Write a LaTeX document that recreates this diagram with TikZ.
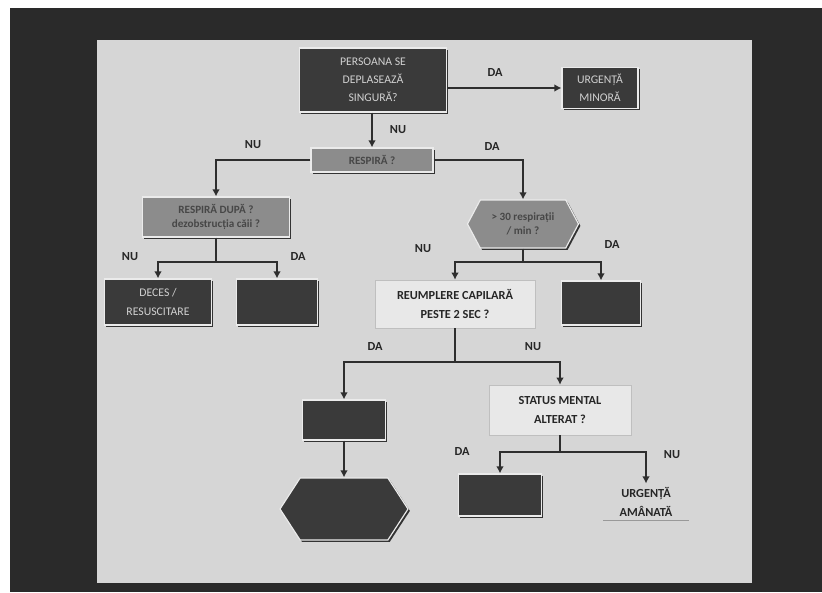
\documentclass[tikz,border=0pt]{standalone}
\usepackage{fontspec}
\setmainfont{Carlito}
\usetikzlibrary{arrows.meta,shapes.misc,shapes.symbols,shadows}
\definecolor{rama}{HTML}{2A2A2A}
\definecolor{diapo}{HTML}{D6D6D6}
\definecolor{inchis}{HTML}{3A3A3A}
\definecolor{gri}{HTML}{8C8C8C}
\definecolor{deschis}{HTML}{E8E8E8}
\definecolor{linie}{HTML}{2E2E2E}
\tikzset{
CutieInchisa/.style={
 rectangle,
 fill=inchis,
 draw=white!92!black,
 line width=1pt,
 inner sep=0pt,
 text=white!82!black,
 align=center,
 font=\fontsize{10}{15.5}\selectfont,
 drop shadow={shadow xshift=1.6pt,shadow yshift=-1.6pt,fill=black!80,opacity=1}
 },
CutieGri/.style={
 rectangle,
 fill=gri,
 draw=white!92!black,
 line width=1pt,
 inner sep=0pt,
 text=black!72,
 align=center,
 font=\bfseries\fontsize{9.5}{12.5}\selectfont,
 drop shadow={shadow xshift=1.6pt,shadow yshift=-1.6pt,fill=black!80,opacity=1}
 },
CutieDeschisa/.style={
 rectangle,
 fill=deschis,
 draw=black!25,
 line width=0.5pt,
 inner sep=0pt,
 text=black!85,
 align=center,
 font=\bfseries\fontsize{10.5}{16.5}\selectfont,
 drop shadow={shadow xshift=1.2pt,shadow yshift=-1.2pt,fill=black!45,opacity=1}
 },
Hexagon/.style={
 signal,
 signal to=west and east,
 signal pointer angle=#1,
 inner sep=0pt
 },
Hexagon/.default={120},
Linie/.style={
 draw=linie,
 line width=1.6pt
 },
Sageata/.style={
 Linie,
 -{Latex[length=6pt,width=6.5pt]}
 },
Eticheta/.style={
 text=black!85,
 font=\bfseries\fontsize{10.5}{11}\selectfont
 }
}
\begin{document}
\begin{tikzpicture}[x=0.03cm,y=-0.03cm]
\useasboundingbox (0,0) rectangle (822,592);
% fundal: rama neagra si diapozitivul
\fill[white] (0,0) rectangle (822,592);
\fill[rama] (10,8) rectangle (822,592);
\fill[diapo] (97,40) rectangle (752,583);

% cutii
\node[CutieInchisa,minimum width=4.41cm,minimum height=1.92cm] (persoana) at (373,80) {PERSOANA SE\\DEPLASEAZĂ\\SINGURĂ?};
\node[CutieInchisa,minimum width=2.28cm,minimum height=1.23cm] (urgMinora) at (600,88) {URGENȚĂ\\MINORĂ};
\node[CutieGri,minimum width=3.66cm,minimum height=0.72cm] (respira) at (372,160) {RESPIRĂ ?};
\node[CutieGri,minimum width=4.41cm,minimum height=1.2cm] (dezob) at (216,217) {RESPIRĂ DUPĂ ?\\dezobstrucția căii ?};
\node[CutieGri,Hexagon=124,minimum width=3.33cm,minimum height=1.44cm] (hexResp) at (523,224) {> 30 respirații\\/ min ?};
\node[CutieInchisa,minimum width=3.21cm,minimum height=1.38cm] (deces) at (158,302) {DECES /\\RESUSCITARE};
\node[CutieInchisa,minimum width=2.43cm,minimum height=1.38cm] (gol1) at (277,302) {};
\node[CutieDeschisa,minimum width=4.8cm,minimum height=1.44cm] (reumplere) at (455,304) {REUMPLERE CAPILARĂ\\PESTE 2 SEC ?};
\node[CutieInchisa,minimum width=2.37cm,minimum height=1.32cm] (gol2) at (601,303) {};
\node[CutieInchisa,minimum width=2.49cm,minimum height=1.2cm] (gol3) at (344,420) {};
\node[CutieDeschisa,minimum width=4.26cm,minimum height=1.5cm] (status) at (560,410) {STATUS MENTAL\\ALTERAT ?};
\node[CutieInchisa,Hexagon=114,minimum width=3.84cm,minimum height=1.86cm] (hexFinal) at (344,509) {};
\node[CutieInchisa,minimum width=2.49cm,minimum height=1.26cm] (gol4) at (500,495) {};
\node[text=black!85,align=center,font=\bfseries\fontsize{10.5}{16}\selectfont,minimum width=2.55cm] (amanata) at (646,502) {URGENȚĂ\\AMÂNATĂ};
\draw[black!40,line width=0.6pt] (amanata.south west) -- (amanata.south east);

% ramificatii
\coordinate (rDezob) at (216,262);
\coordinate (rHex) at (523,262);
\coordinate (rReumpl) at (455,362);
\coordinate (rStatus) at (560,452);

% sageti
\draw[Sageata] (persoana.east |- urgMinora.west) -- (urgMinora.west);
\draw[Sageata] (persoana.south -| respira.north) -- (respira.north);
\draw[Sageata] (respira.west) -| (dezob.north);
\draw[Sageata] (respira.east) -| (hexResp.north);
\draw[Linie] (dezob.south) -- (rDezob);
\draw[Sageata] (rDezob) -| (deces.north);
\draw[Sageata] (rDezob) -| (gol1.north);
\draw[Linie] (hexResp.south) -- (rHex);
\draw[Sageata] (rHex) -| (reumplere.north);
\draw[Sageata] (rHex) -| (gol2.north);
\draw[Linie] (reumplere.south) -- (rReumpl);
\draw[Sageata] (rReumpl) -| (gol3.north);
\draw[Sageata] (rReumpl) -| (status.north);
\draw[Sageata] (gol3.south) -- (hexFinal.north);
\draw[Linie] (status.south) -- (rStatus);
\draw[Sageata] (rStatus) -| (gol4.north);
\draw[Sageata] (rStatus) -| (amanata.north);

% etichete
\node[Eticheta] (da1) at (495,73) {DA};
\node[Eticheta] (nu1) at (398,130) {NU};
\node[Eticheta] (nu2) at (253,145) {NU};
\node[Eticheta] (da2) at (492,147) {DA};
\node[Eticheta] (nu3) at (130,257) {NU};
\node[Eticheta] (da3) at (298,257) {DA};
\node[Eticheta] (nu4) at (423,249) {NU};
\node[Eticheta] (da4) at (612,245) {DA};
\node[Eticheta] (da5) at (375,347) {DA};
\node[Eticheta] (nu5) at (533,347) {NU};
\node[Eticheta] (da6) at (462,452) {DA};
\node[Eticheta] (nu6) at (672,455) {NU};
\end{tikzpicture}
\end{document}
